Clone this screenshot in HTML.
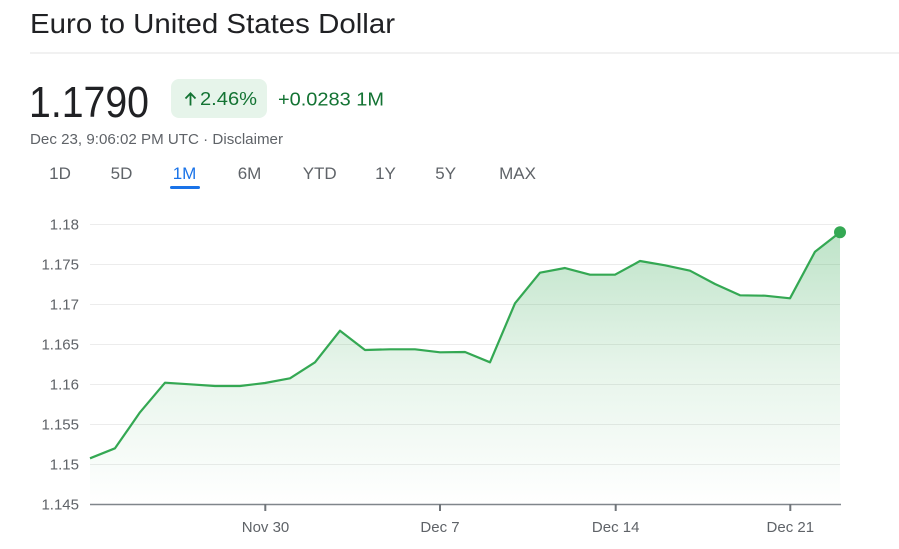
<!DOCTYPE html>
<html>
<head>
<meta charset="utf-8">
<style>
  html,body{margin:0;padding:0;background:#fff;}
  body{width:899px;height:549px;overflow:hidden;}
  svg{display:block;}
  text{font-family:"Liberation Sans", Arial, sans-serif;}
</style>
</head>
<body>
<svg width="899" height="549" viewBox="0 0 899 549" xmlns="http://www.w3.org/2000/svg">
  <defs>
    <linearGradient id="fillg" x1="0" y1="232" x2="0" y2="504" gradientUnits="userSpaceOnUse">
      <stop offset="0" stop-color="#34a853" stop-opacity="0.32"/>
      <stop offset="0.5" stop-color="#34a853" stop-opacity="0.12"/>
      <stop offset="1" stop-color="#34a853" stop-opacity="0"/>
    </linearGradient>
  </defs>

  <!-- Header -->
  <text x="30" y="33" font-size="28" fill="#202124" textLength="365" lengthAdjust="spacingAndGlyphs">Euro to United States Dollar</text>
  <rect x="30" y="52.5" width="869" height="1" fill="#e3e3e3"/>

  <text x="29" y="117" font-size="44" fill="#202124" textLength="120" lengthAdjust="spacingAndGlyphs">1.1790</text>

  <rect x="171" y="79" width="96" height="39" rx="8" fill="#e6f4ea"/>
  <path d="M190.5 105.5 V93.5 M185.5 98.5 L190.5 93.3 L195.5 98.5" stroke="#137333" stroke-width="1.8" fill="none"/>
  <text x="200" y="105" font-size="18.5" fill="#137333" textLength="57" lengthAdjust="spacingAndGlyphs">2.46%</text>
  <text x="278" y="105.5" font-size="18.5" fill="#137333" textLength="106" lengthAdjust="spacingAndGlyphs">+0.0283 1M</text>

  <text x="30" y="144" font-size="14.5" fill="#5f6368" textLength="253" lengthAdjust="spacingAndGlyphs">Dec 23, 9:06:02 PM UTC · Disclaimer</text>

  <!-- Tabs -->
  <g font-size="17" fill="#5f6368" text-anchor="middle">
    <text x="60" y="179">1D</text>
    <text x="121.5" y="179">5D</text>
    <text x="184.5" y="179" fill="#1a73e8">1M</text>
    <text x="249.5" y="179">6M</text>
    <text x="319.7" y="179">YTD</text>
    <text x="385.5" y="179">1Y</text>
    <text x="445.7" y="179">5Y</text>
    <text x="517.5" y="179">MAX</text>
  </g>
  <rect x="170" y="186" width="30" height="3" rx="1.5" fill="#1a73e8"/>

  <!-- Grid -->
  <g stroke="#ececec" stroke-width="1">
    <line x1="90" y1="224.5" x2="840" y2="224.5"/>
    <line x1="90" y1="264.5" x2="840" y2="264.5"/>
    <line x1="90" y1="304.5" x2="840" y2="304.5"/>
    <line x1="90" y1="344.5" x2="840" y2="344.5"/>
    <line x1="90" y1="384.5" x2="840" y2="384.5"/>
    <line x1="90" y1="424.5" x2="840" y2="424.5"/>
    <line x1="90" y1="464.5" x2="840" y2="464.5"/>
  </g>

  <!-- Y labels -->
  <g font-size="15" fill="#5f6368" text-anchor="end">
    <text x="79" y="229.5">1.18</text>
    <text x="79" y="269.5">1.175</text>
    <text x="79" y="309.5">1.17</text>
    <text x="79" y="349.5">1.165</text>
    <text x="79" y="389.5">1.16</text>
    <text x="79" y="429.5">1.155</text>
    <text x="79" y="469.5">1.15</text>
    <text x="79" y="509.5">1.145</text>
  </g>

  <!-- Area fill -->
  <path fill="url(#fillg)" d="M90 458.3 L115 448.3 L140 412.3 L165 382.7 L190 384.3 L215 386 L240 386 L265 383 L290 378.3 L315 362.3 L340 330.7 L365 350 L390 349.3 L415 349.3 L440 352.3 L465 352 L490 362.3 L515 303.3 L540 272.7 L565 268 L590 274.7 L615 274.7 L640 261 L665 265.3 L690 270.7 L715 284 L740 295.3 L765 295.7 L790 298.3 L815 251.7 L840 232.3 L840 504 L90 504 Z"/>

  <!-- Axis -->
  <line x1="90" y1="504.5" x2="841" y2="504.5" stroke="#80868b" stroke-width="1.5"/>
  <g stroke="#70757a" stroke-width="2">
    <line x1="265.3" y1="504" x2="265.3" y2="511"/>
    <line x1="440" y1="504" x2="440" y2="511"/>
    <line x1="615.7" y1="504" x2="615.7" y2="511"/>
    <line x1="790.3" y1="504" x2="790.3" y2="511"/>
  </g>
  <g font-size="15" fill="#5f6368" text-anchor="middle">
    <text x="265.5" y="532">Nov 30</text>
    <text x="440" y="532">Dec 7</text>
    <text x="615.7" y="532">Dec 14</text>
    <text x="790.3" y="532">Dec 21</text>
  </g>

  <!-- Line -->
  <polyline fill="none" stroke="#34a853" stroke-width="2.2" stroke-linejoin="round" points="90,458.3 115,448.3 140,412.3 165,382.7 190,384.3 215,386 240,386 265,383 290,378.3 315,362.3 340,330.7 365,350 390,349.3 415,349.3 440,352.3 465,352 490,362.3 515,303.3 540,272.7 565,268 590,274.7 615,274.7 640,261 665,265.3 690,270.7 715,284 740,295.3 765,295.7 790,298.3 815,251.7 840,232.3"/>
  <circle cx="840" cy="232.3" r="6" fill="#34a853"/>
</svg>
</body>
</html>
